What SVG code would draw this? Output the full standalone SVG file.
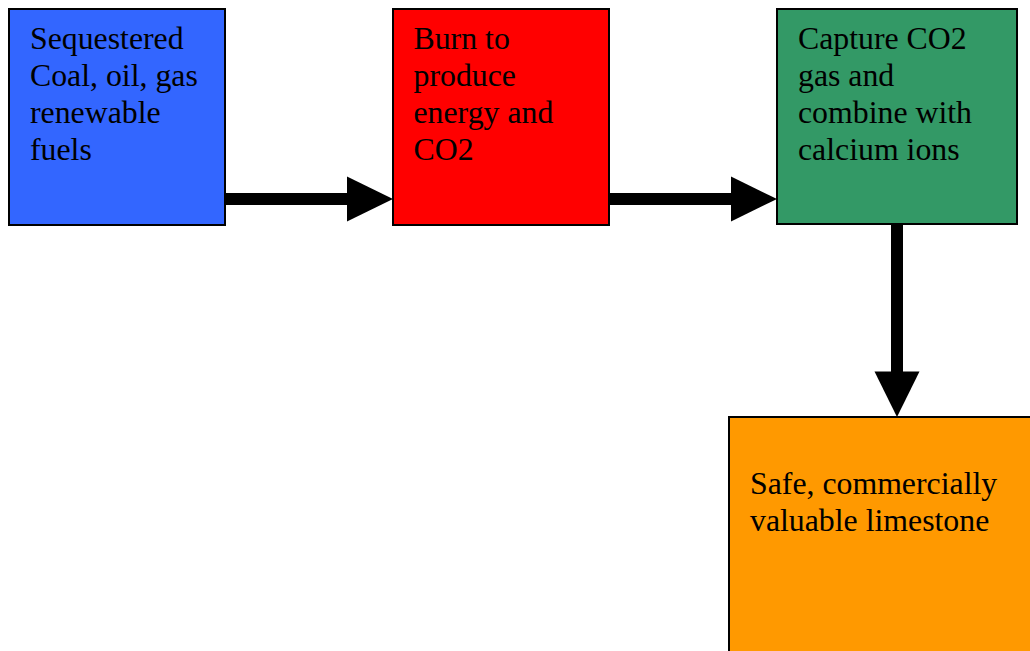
<svg xmlns="http://www.w3.org/2000/svg" width="1030" height="651" viewBox="0 0 1030 651">
<style>
.box{stroke:#000;stroke-width:2}
.t{font-family:"Liberation Serif","Times New Roman",serif;font-size:31.8px;fill:#000}
.shaft{stroke:#000;stroke-width:12;fill:none}
.head{fill:#000}
</style>
<rect width="1030" height="651" fill="#fff"/>
<g id="connectors">
<line class="shaft" x1="225" y1="199" x2="349" y2="199"/>
<polygon class="head" points="347,176.5 393,199 347,221.5"/>
<line class="shaft" x1="609" y1="199" x2="733" y2="199"/>
<polygon class="head" points="731,176.5 777,199 731,221.5"/>
<line class="shaft" x1="897" y1="224" x2="897" y2="374"/>
<polygon class="head" points="874.5,371.5 897,417 919.5,371.5"/>
</g>
<g id="node1">
<rect class="box" x="9" y="9" width="216" height="216" fill="#3366FF"/>
<text class="t"><tspan x="30" y="49">Sequestered</tspan><tspan x="30" y="86">Coal, oil, gas</tspan><tspan x="30" y="123">renewable</tspan><tspan x="30" y="159.5">fuels</tspan></text>
</g>
<g id="node2">
<rect class="box" x="393" y="9" width="216" height="216" fill="#FF0000"/>
<text class="t"><tspan x="413.5" y="49">Burn to</tspan><tspan x="413.5" y="86">produce</tspan><tspan x="413.5" y="123">energy and</tspan><tspan x="413.5" y="159.5">CO2</tspan></text>
</g>
<g id="node3">
<rect class="box" x="777" y="9" width="240" height="215" fill="#339966"/>
<text class="t"><tspan x="798" y="49">Capture CO2</tspan><tspan x="798" y="86">gas and</tspan><tspan x="798" y="123">combine with</tspan><tspan x="798" y="159.5">calcium ions</tspan></text>
</g>
<g id="node4">
<rect class="box" x="729" y="417" width="310" height="250" fill="#FF9900"/>
<text class="t"><tspan x="750" y="494">Safe, commercially</tspan><tspan x="750" y="530.5">valuable limestone</tspan></text>
</g>
</svg>
